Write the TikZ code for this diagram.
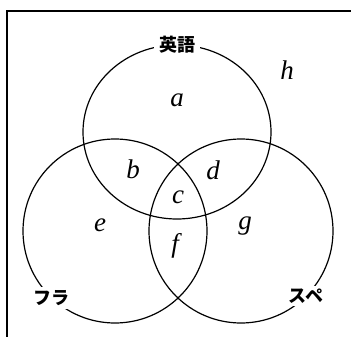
\documentclass[tikz,border=0pt]{standalone}
\usepackage{fontspec}
\setmainfont{Liberation Serif}
\newfontfamily\jp{Noto Sans CJK JP}
\tikzset{
  frameline/.style={line width=1.3pt},
  ring/.style={line width=1.2pt},
  setlabel/.style={fill=white, inner xsep=5pt, inner ysep=3pt, font=\jp\bfseries\fontsize{18}{18}\selectfont},
  region/.style={inner sep=0pt, font=\itshape\fontsize{27}{27}\selectfont}
}
\begin{document}
\begin{tikzpicture}[x=1pt,y=-1pt]
\useasboundingbox (0,0) rectangle (351,337);
\coordinate (fr1) at (351,11);
\coordinate (fr2) at (7,11);
\coordinate (fr3) at (7,337);
\draw[frameline] (fr1) -- (fr2) -- (fr3);
\coordinate (ce) at (177,132);
\coordinate (cf) at (115,231);
\coordinate (cs) at (241,231);
\draw[ring] (ce) ellipse [x radius=94, y radius=87];
\draw[ring] (cf) circle [radius=92];
\draw[ring] (cs) circle [radius=92];
\node[setlabel] (le) at (177,45) {英語};
\node[setlabel] (lf) at (52,298) {フラ};
\node[setlabel] (ls) at (306,296) {スペ};
\node[region] (ra) at (177,100) {a};
\node[region] (rh) at (287,70) {h};
\node[region] (rb) at (133,169) {b};
\node[region] (rd) at (213,170) {d};
\node[region] (rc) at (178,197) {c};
\node[region] (re) at (100,225) {e};
\node[region] (rg) at (245,226) {g};
\node[region] (rf) at (175,246) {f};
\end{tikzpicture}
\end{document}
